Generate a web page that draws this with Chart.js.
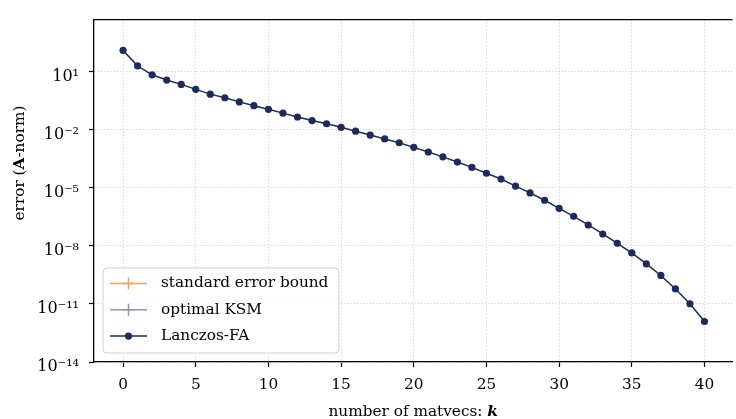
<!DOCTYPE html>
<html><head><meta charset="utf-8">
<script src="https://cdn.jsdelivr.net/npm/chart.js@4.4.0/dist/chart.umd.min.js"></script>
<style>html,body{margin:0;padding:0;background:#fff}</style>
</head><body>
<canvas id="c" width="736" height="419" style="display:block;width:736px;height:419px"></canvas>
<script>
// ---- data ----
const steps = [0,1,2,3,4,5,6,7,8,9,10,11,12,13,14,15,16,17,18,19,20,21,22,23,24,25,26,27,28,29,30,31,32,33,34,35,36,37,38,39,40];
const lanczosFA = [125, 20, 6.9, 3.7, 2.2, 1.22, 0.69, 0.45, 0.275, 0.174, 0.114, 0.072, 0.0455, 0.0298, 0.0204, 0.0133, 0.00843, 0.00532, 0.00336, 0.00213, 0.00123,
  7.08e-4, 3.98e-4, 2.14e-4, 1.13e-4, 5.66e-5, 2.84e-5, 1.22e-5, 5.46e-6, 2.28e-6, 8.71e-7,
  3.36e-7, 1.20e-7, 4.11e-8, 1.35e-8, 4.30e-9, 1.17e-9, 2.96e-10, 5.94e-11, 1.02e-11, 1.24e-12];
const standardBound = [];
const optimalKSM = [];
const seriesLabels = ['standard error bound', 'optimal KSM', 'Lanczos-FA'];
const xTicks = [0, 5, 10, 15, 20, 25, 30, 35, 40];
const yTicks = [1e-14, 1e-11, 1e-8, 1e-5, 1e-2, 1e1];
const yTickLabels = ['10⁻¹⁴', '10⁻¹¹', '10⁻⁸', '10⁻⁵', '10⁻²', '10¹'];
const xTitle = ['number of matvecs: ', 'k'];
const yTitle = ['error (', 'A', '-norm)'];

const FONT = 'DejaVu Serif';
Chart.defaults.font.family = FONT;
Chart.defaults.font.size = 15;
Chart.defaults.color = '#000';

const decor = {
  id: 'decor',
  afterDraw(chart) {
    const ctx = chart.ctx, a = chart.chartArea;
    ctx.save();
    // top spine
    ctx.strokeStyle = '#000'; ctx.lineWidth = 1.3;
    ctx.beginPath(); ctx.moveTo(a.left - 0.65, a.top); ctx.lineTo(a.right, a.top); ctx.stroke();

    // legend
    const bx = 103, by = 268, bw = 236, bh = 85, r = 4;
    ctx.beginPath();
    ctx.moveTo(bx + r, by); ctx.lineTo(bx + bw - r, by); ctx.quadraticCurveTo(bx + bw, by, bx + bw, by + r);
    ctx.lineTo(bx + bw, by + bh - r); ctx.quadraticCurveTo(bx + bw, by + bh, bx + bw - r, by + bh);
    ctx.lineTo(bx + r, by + bh); ctx.quadraticCurveTo(bx, by + bh, bx, by + bh - r);
    ctx.lineTo(bx, by + r); ctx.quadraticCurveTo(bx, by, bx + r, by);
    ctx.closePath();
    ctx.fillStyle = 'rgba(255,255,255,0.85)'; ctx.fill();
    ctx.strokeStyle = '#d0d0d0'; ctx.lineWidth = 1; ctx.stroke();
    chart.data.datasets.forEach((ds, i) => {
      const y = 283.5 + i * 26.3;
      ctx.strokeStyle = ds.borderColor; ctx.lineWidth = 1.5;
      ctx.beginPath(); ctx.moveTo(110, y); ctx.lineTo(147, y); ctx.stroke();
      const cx = 128.5;
      if (ds.pointStyle === 'cross') {
        ctx.beginPath(); ctx.moveTo(cx - 6, y); ctx.lineTo(cx + 6, y); ctx.moveTo(cx, y - 6); ctx.lineTo(cx, y + 6); ctx.stroke();
      } else {
        ctx.fillStyle = ds.backgroundColor; ctx.beginPath(); ctx.arc(cx, y, 3.6, 0, Math.PI * 2); ctx.fill();
      }
      ctx.fillStyle = '#000'; ctx.font = '15.3px "' + FONT + '"'; ctx.textBaseline = 'middle'; ctx.textAlign = 'left';
      ctx.fillText(ds.label, 161, y);
    });

    // x title
    ctx.textBaseline = 'middle'; ctx.textAlign = 'left';
    const f1 = '15.3px "' + FONT + '"', f2 = 'italic bold 15.3px "' + FONT + '"';
    ctx.font = f1; const w1 = ctx.measureText(xTitle[0]).width;
    ctx.font = f2; const w2 = ctx.measureText(xTitle[1]).width;
    let x0 = (a.left + a.right) / 2 - (w1 + w2) / 2;
    ctx.font = f1; ctx.fillText(xTitle[0], x0, 412);
    ctx.font = f2; ctx.fillText(xTitle[1], x0 + w1, 412);

    // y title
    ctx.translate(20, 163); ctx.rotate(-Math.PI / 2);
    const fb = 'bold 15.3px "' + FONT + '"';
    ctx.font = f1; const a1 = ctx.measureText(yTitle[0]).width, a3 = ctx.measureText(yTitle[2]).width;
    ctx.font = fb; const a2 = ctx.measureText(yTitle[1]).width;
    let s = -(a1 + a2 + a3) / 2;
    ctx.font = f1; ctx.fillText(yTitle[0], s, 0);
    ctx.font = fb; ctx.fillText(yTitle[1], s + a1, 0);
    ctx.font = f1; ctx.fillText(yTitle[2], s + a1 + a2, 0);
    ctx.restore();
  }
};

new Chart(document.getElementById('c'), {
  type: 'line',
  data: {
    datasets: [
      { label: seriesLabels[0], data: standardBound.map((v, i) => ({x: steps[i], y: v})), borderColor: '#f7a24c', backgroundColor: '#f7a24c', pointStyle: 'cross', borderWidth: 1.5 },
      { label: seriesLabels[1], data: optimalKSM.map((v, i) => ({x: steps[i], y: v})), borderColor: '#8c97c2', backgroundColor: '#8c97c2', pointStyle: 'cross', borderWidth: 1.5 },
      { label: seriesLabels[2], data: lanczosFA.map((v, i) => ({x: steps[i], y: v})), borderColor: '#1c2b5c', backgroundColor: '#1c2b5c', pointStyle: 'circle', pointRadius: 3.6, pointHoverRadius: 3.6, pointBorderWidth: 0, borderWidth: 1.5, tension: 0 }
    ]
  },
  options: {
    responsive: false,
    animation: false,
    devicePixelRatio: 1,
    events: [],
    layout: { padding: { top: 8, left: 0, right: 0, bottom: 0 } },
    plugins: { legend: { display: false }, tooltip: { enabled: false } },
    scales: {
      x: {
        type: 'linear', min: -2, max: 41.92,
        afterBuildTicks: s => { s.ticks = xTicks.map(v => ({ value: v })); },
        afterFit: s => { s.height = 57; },
        ticks: { autoSkip: false, maxRotation: 0, padding: 9, font: { size: 15.3 }, callback: v => String(v) },
        grid: { color: '#d4d4d4', lineWidth: 1, tickLength: 5, tickColor: '#000', tickWidth: 1.2 },
        border: { display: true, color: '#000', width: 1.3, dash: [1.2, 2] }
      },
      y: {
        type: 'logarithmic', min: 1e-14, max: 4900,
        afterBuildTicks: s => { s.ticks = yTicks.map(v => ({ value: v })); },
        afterFit: s => { s.width = 94; },
        ticks: { autoSkip: false, padding: 10, labelOffset: 5, font: { size: 16 }, callback: (v, i) => yTickLabels[i] },
        grid: { color: '#d4d4d4', lineWidth: 1, tickLength: 5, tickColor: '#000', tickWidth: 1.2 },
        border: { display: true, color: '#000', width: 1.3, dash: [1.2, 2] }
      }
    }
  },
  plugins: [decor]
});
</script>
</body></html>
